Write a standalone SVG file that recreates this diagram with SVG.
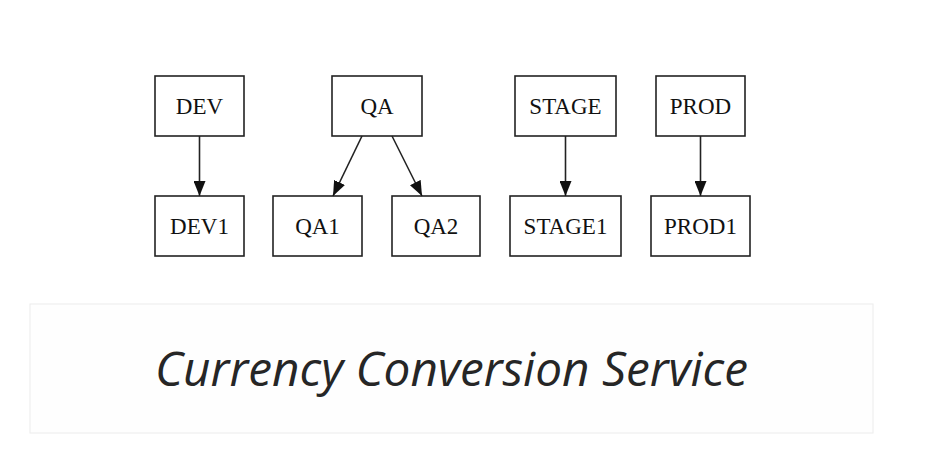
<svg xmlns="http://www.w3.org/2000/svg" width="940" height="460" viewBox="0 0 940 460">
  <style>
    .box { fill: #ffffff; stroke: #222222; stroke-width: 1.6; }
    .lbl { font-family: "Liberation Serif", "Times New Roman", serif; font-size: 23px; fill: #111111; text-anchor: middle; }
    .edge { stroke: #222222; stroke-width: 1.6; fill: none; marker-end: url(#arr); }
    .title { font-family: "Open Sans", "Noto Sans", sans-serif; font-style: italic; font-size: 48px; fill: #262626; }
  </style>
  <defs>
    <marker id="arr" markerUnits="userSpaceOnUse" markerWidth="15" markerHeight="12" refX="15" refY="6" orient="auto">
      <path d="M0,0 L15,6 L0,12 z" fill="#111111"/>
    </marker>
  </defs>
  <rect width="940" height="460" fill="#ffffff"/>

  <g id="DEV"><rect class="box" x="155" y="76" width="89" height="60"/><text class="lbl" x="199.5" y="114">DEV</text></g>
  <g id="QA"><rect class="box" x="332" y="76" width="90" height="60"/><text class="lbl" x="377" y="114">QA</text></g>
  <g id="STAGE"><rect class="box" x="515" y="76" width="101" height="60"/><text class="lbl" x="565.5" y="114">STAGE</text></g>
  <g id="PROD"><rect class="box" x="656" y="76" width="89" height="60"/><text class="lbl" x="700.5" y="114">PROD</text></g>

  <g id="DEV1"><rect class="box" x="155" y="196" width="89" height="60"/><text class="lbl" x="199.5" y="234">DEV1</text></g>
  <g id="QA1"><rect class="box" x="273" y="196" width="89" height="60"/><text class="lbl" x="317.5" y="234">QA1</text></g>
  <g id="QA2"><rect class="box" x="392" y="196" width="88" height="60"/><text class="lbl" x="436" y="234">QA2</text></g>
  <g id="STAGE1"><rect class="box" x="510" y="196" width="111" height="60"/><text class="lbl" x="565.5" y="234">STAGE1</text></g>
  <g id="PROD1"><rect class="box" x="651" y="196" width="99" height="60"/><text class="lbl" x="700.5" y="234">PROD1</text></g>

  <g id="connectors">
    <line class="edge" x1="199.5" y1="136" x2="199.5" y2="196"/>
    <line class="edge" x1="362" y1="136" x2="333" y2="196"/>
    <line class="edge" x1="392" y1="136" x2="422" y2="196"/>
    <line class="edge" x1="565.5" y1="136" x2="565.5" y2="196"/>
    <line class="edge" x1="700.5" y1="136" x2="700.5" y2="196"/>
  </g>

  <g id="banner">
    <rect x="30" y="304" width="843" height="129" fill="#fefefe" stroke="#ececec" stroke-width="1"/>
    <text class="title" x="155" y="386" textLength="593" lengthAdjust="spacingAndGlyphs">Currency Conversion Service</text>
  </g>
</svg>
